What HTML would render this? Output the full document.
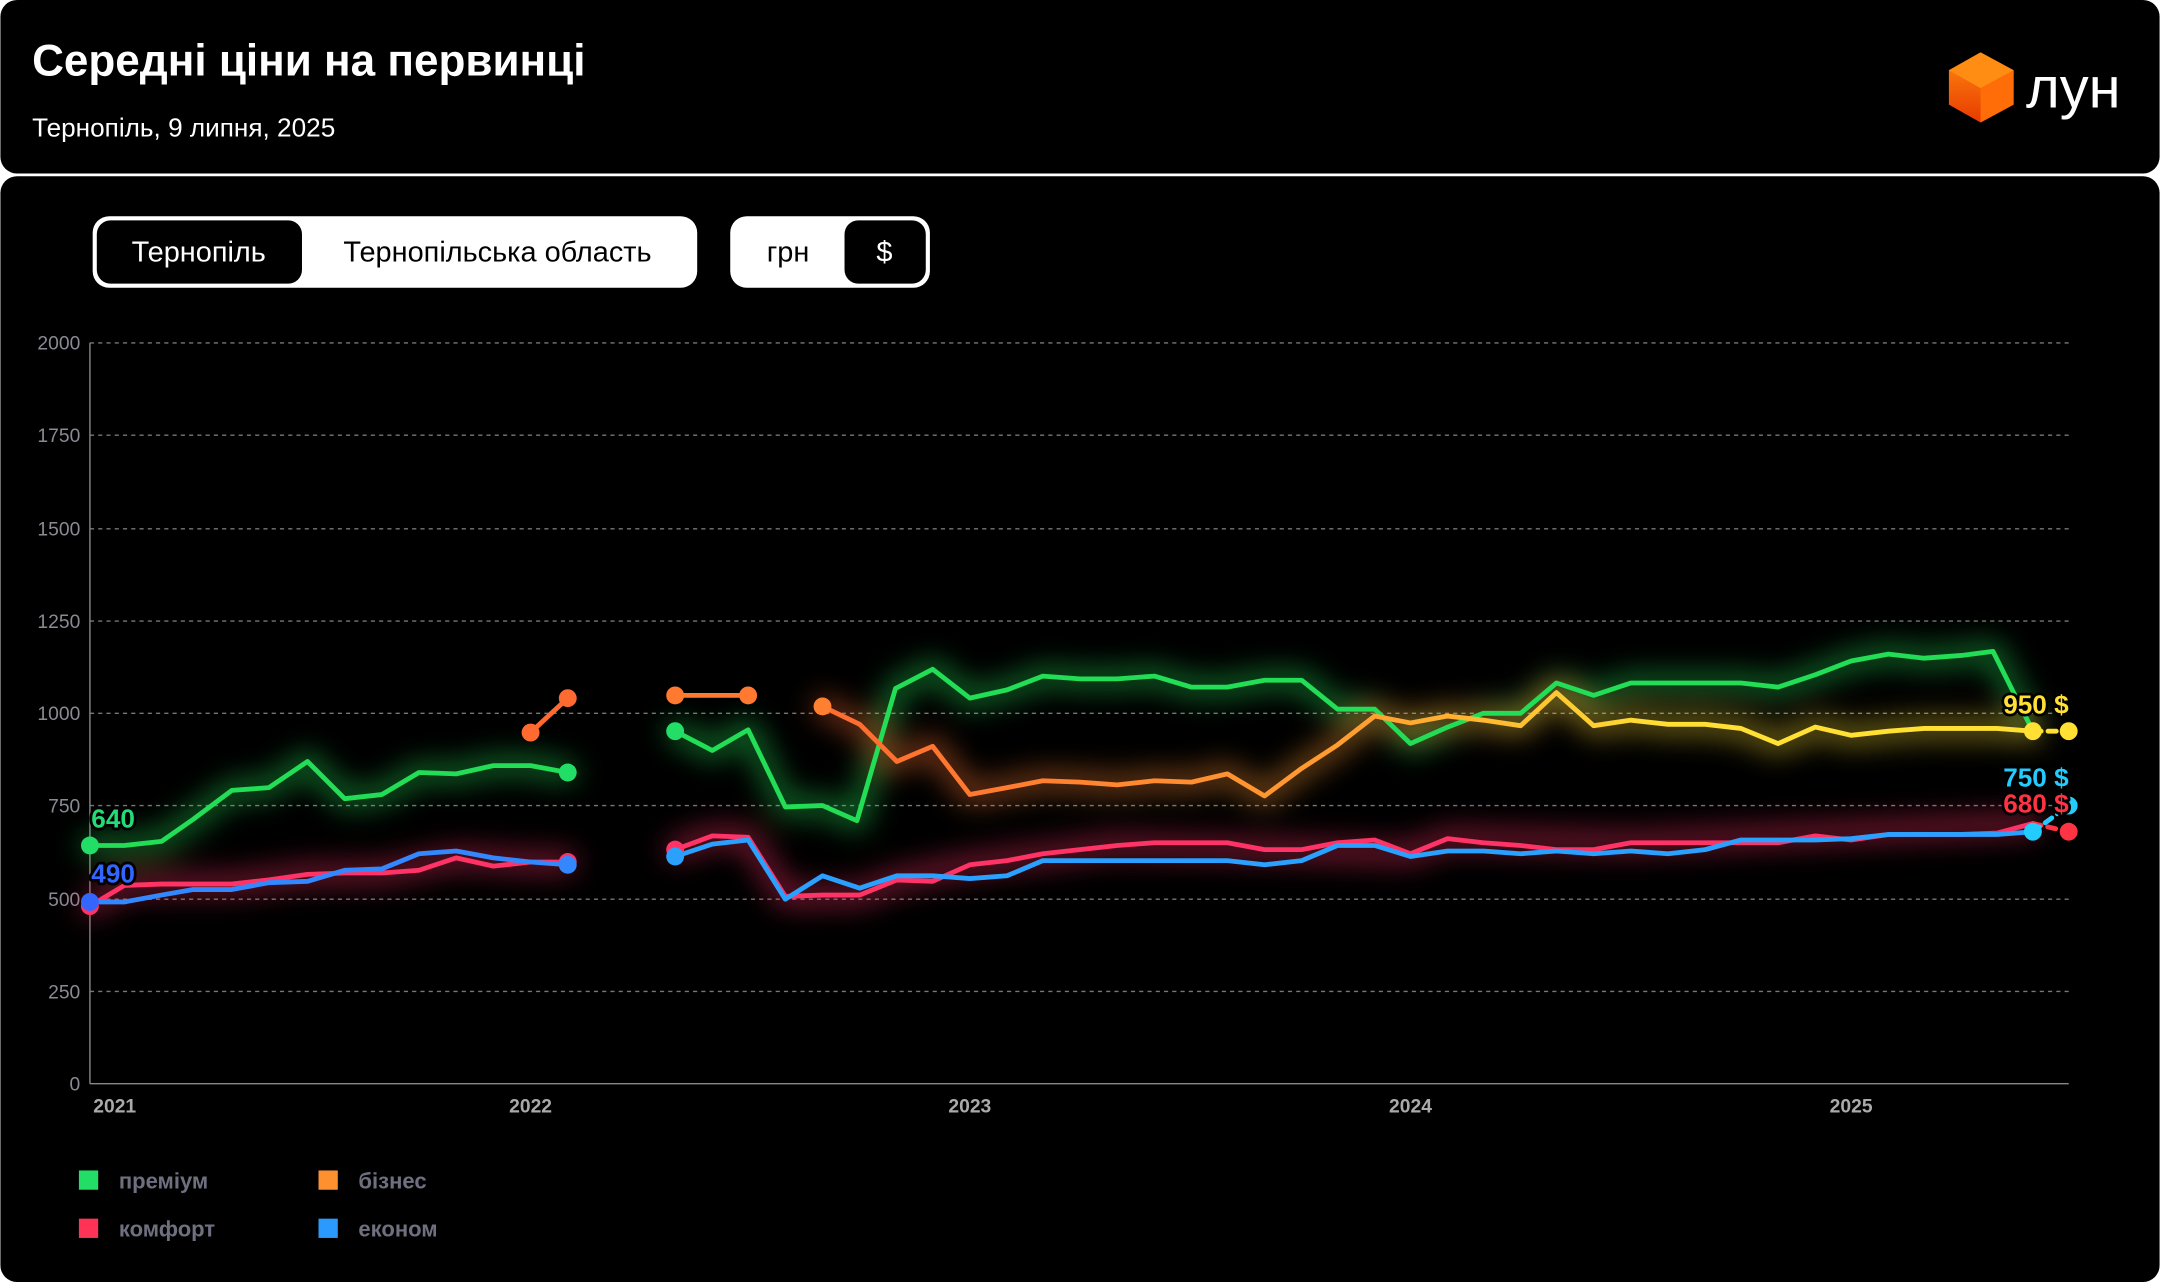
<!DOCTYPE html>
<html><head><meta charset="utf-8"><style>
html,body{margin:0;padding:0;background:#fff;}
svg{display:block;}
text{font-family:"Liberation Sans",sans-serif;}
</style></head><body>
<svg width="2160" height="1282" viewBox="0 0 1568 931" xmlns="http://www.w3.org/2000/svg">
<defs>
<filter id="glow" x="-20%" y="-50%" width="140%" height="200%"><feGaussianBlur stdDeviation="10"/></filter>
<linearGradient id="gBiz" x1="0" x2="1" y1="0" y2="0"><stop offset="0" stop-color="#ff6a30"/><stop offset="0.45" stop-color="#ffa030"/><stop offset="0.7" stop-color="#ffe033"/><stop offset="1" stop-color="#ffe033"/></linearGradient>
<linearGradient id="gCube" x1="0" x2="0" y1="0" y2="1"><stop offset="0" stop-color="#ff8a10"/><stop offset="1" stop-color="#e83a00"/></linearGradient>
</defs>
<rect x="0" y="0" width="1568" height="126" rx="12" fill="#000"/>
<rect x="0" y="128" width="1568" height="803" rx="12" fill="#000"/>
<text x="23" y="55" fill="#fff" font-size="32" font-weight="bold">Середні ціни на первинці</text>
<text x="23" y="99" fill="#fff" font-size="19">Тернопіль, 9 липня, 2025</text>
<polygon points="1438,38 1462,51 1462,76 1438,89 1415,76 1415,51" fill="url(#gCube)"/>
<polygon points="1438,38 1462,51 1438,64 1415,51" fill="#ff8d14"/>
<polygon points="1438,64 1462,51 1462,76 1438,89" fill="#ff6d08"/>
<text x="1471" y="78" fill="#fff" font-size="42">лун</text>
<rect x="67" y="157" width="439" height="52" rx="12" fill="#fff"/>
<rect x="70" y="160" width="149" height="46" rx="10" fill="#000"/>
<text x="144" y="190" fill="#fff" font-size="21" text-anchor="middle">Тернопіль</text>
<text x="361" y="190" fill="#000" font-size="21" text-anchor="middle">Тернопільська область</text>
<rect x="530" y="157" width="145" height="52" rx="12" fill="#fff"/>
<rect x="613" y="160" width="59" height="46" rx="10" fill="#000"/>
<text x="572" y="190" fill="#000" font-size="21" text-anchor="middle">грн</text>
<text x="642" y="190" fill="#fff" font-size="21" text-anchor="middle">$</text>
<g stroke="#777" stroke-dasharray="3,3" stroke-width="1">
<line x1="65" x2="1502" y1="249" y2="249"/><line x1="65" x2="1502" y1="316" y2="316"/><line x1="65" x2="1502" y1="384" y2="384"/><line x1="65" x2="1502" y1="451" y2="451"/><line x1="65" x2="1502" y1="518" y2="518"/><line x1="65" x2="1502" y1="585" y2="585"/><line x1="65" x2="1502" y1="653" y2="653"/><line x1="65" x2="1502" y1="720" y2="720"/>
</g>
<line x1="65" x2="1502" y1="787" y2="787" stroke="#888"/>
<line x1="65" x2="65" y1="249" y2="787" stroke="#888"/>
<g fill="#8a8a95" font-size="14" text-anchor="end">
<text x="58" y="254">2000</text><text x="58" y="321">1750</text><text x="58" y="389">1500</text><text x="58" y="456">1250</text><text x="58" y="523">1000</text><text x="58" y="590">750</text><text x="58" y="658">500</text><text x="58" y="725">250</text><text x="58" y="792">0</text>
</g>
<g fill="#aaa" font-size="14" font-weight="bold" text-anchor="middle">
<text x="83" y="808">2021</text><text x="385" y="808">2022</text><text x="704" y="808">2023</text><text x="1024" y="808">2024</text><text x="1344" y="808">2025</text>
</g>
<g fill="none" stroke-width="3.5" stroke-linejoin="round" stroke-linecap="round">
<g filter="url(#glow)" opacity="0.5" stroke-width="14">
<polyline stroke="#22dd55" points="65,614 90,614 117,611 140,595 168,574 195,572 223,553 250,580 277,577 304,561 331,562 358,556 385,556 412,561"/>
<polyline stroke="#22dd55" points="490,531 517,545 543,530 570,586 597,585 622,596 650,500 677,486 704,507 731,501 757,491 784,493 811,493 838,491 865,499 891,499 918,494 945,494 971,515 998,515 1024,540 1051,528 1077,518 1104,518 1130,496 1157,505 1184,496 1211,496 1238,496 1264,496 1291,499 1318,490 1344,480 1371,475 1397,478 1424,476 1447,473 1476,531"/>
<polyline stroke="url(#gBiz)" points="597,513 624,526 651,553 677,542 704,577 731,572 757,567 784,568 811,570 838,567 865,568 891,562 918,578 945,558 971,541 998,520 1024,525 1051,520 1077,523 1104,527 1130,503 1157,527 1184,523 1211,526 1238,526 1264,529 1291,540 1318,528 1344,534 1371,531 1397,529 1424,529 1450,529 1476,531"/>
<polyline stroke="#ff3366" points="65,658 90,643 117,642 168,642 223,635 277,634 331,623 385,626 412,626"/>
<polyline stroke="#ff3366" points="490,617 517,607 543,608 570,651 624,650 651,639 704,628 811,614 918,617 1024,620 1051,609 1184,612 1476,598"/>
</g>
<polyline stroke="#22dd55" points="65,614 90,614 117,611 140,595 168,574 195,572 223,553 250,580 277,577 304,561 331,562 358,556 385,556 412,561"/>
<polyline stroke="#22dd55" points="490,531 517,545 543,530 570,586 597,585 622,596 650,500 677,486 704,507 731,501 757,491 784,493 811,493 838,491 865,499 891,499 918,494 945,494 971,515 998,515 1024,540 1051,528 1077,518 1104,518 1130,496 1157,505 1184,496 1211,496 1238,496 1264,496 1291,499 1318,490 1344,480 1371,475 1397,478 1424,476 1447,473 1476,531"/>
<polyline stroke="#ff6a30" points="385,532 412,507"/>
<polyline stroke="#ff7a30" points="490,505 543,505"/>
<polyline stroke="url(#gBiz)" points="597,513 624,526 651,553 677,542 704,577 731,572 757,567 784,568 811,570 838,567 865,568 891,562 918,578 945,558 971,541 998,520 1024,525 1051,520 1077,523 1104,527 1130,503 1157,527 1184,523 1211,526 1238,526 1264,529 1291,540 1318,528 1344,534 1371,531 1397,529 1424,529 1450,529 1476,531"/>
<polyline stroke="#ff3366" points="65,658 90,643 117,642 140,642 168,642 195,639 223,635 250,634 277,634 304,632 331,623 358,629 385,626 412,626"/>
<polyline stroke="#ff3366" points="490,617 517,607 543,608 570,651 597,650 624,650 651,639 677,640 704,628 731,625 757,620 784,617 811,614 838,612 865,612 891,612 918,617 945,617 971,612 998,610 1024,620 1051,609 1077,612 1104,614 1130,617 1157,617 1184,612 1211,612 1238,612 1264,612 1291,612 1318,607 1344,610 1371,606 1397,606 1424,606 1450,605 1476,598"/>
<polyline stroke="#3388ff" points="65,655 90,655 117,650 140,646 168,646 195,641 223,640 250,632 277,631 304,620 331,618 358,623 385,626 412,628"/>
<polyline stroke="#2aa0ff" points="490,622 517,613 543,610 570,653 597,636 624,645 651,636 677,636 704,638 731,636 757,625 784,625 811,625 838,625 865,625 891,625 918,628 945,625 971,614 998,614 1024,622 1051,618 1077,618 1104,620 1130,618 1157,620 1184,618 1211,620 1238,617 1264,610 1291,610 1318,610 1344,609 1371,606 1397,606 1424,606 1450,606 1476,604"/>
<line x1="1476" y1="531" x2="1502" y2="531" stroke="#ffe033" stroke-dasharray="6,5"/>
<line x1="1476" y1="598" x2="1502" y2="604" stroke="#ff3344" stroke-dasharray="6,5"/>
<line x1="1476" y1="604" x2="1502" y2="585" stroke="#22ccff" stroke-dasharray="6,5"/>
</g>
<g>
<circle cx="65" cy="614" r="6.5" fill="#22dd66"/>
<circle cx="412" cy="561" r="6.5" fill="#22dd66"/>
<circle cx="490" cy="531" r="6.5" fill="#22dd66"/>
<circle cx="385" cy="532" r="6.5" fill="#ff6a30"/>
<circle cx="412" cy="507" r="6.5" fill="#ff6a30"/>
<circle cx="490" cy="505" r="6.5" fill="#ff7a30"/>
<circle cx="543" cy="505" r="6.5" fill="#ff7a30"/>
<circle cx="597" cy="513" r="6.5" fill="#ff8030"/>
<circle cx="65" cy="658" r="6.5" fill="#ff3366"/>
<circle cx="412" cy="626" r="6.5" fill="#ff3366"/>
<circle cx="490" cy="617" r="6.5" fill="#ff3366"/>
<circle cx="65" cy="655" r="6.5" fill="#3366ff"/>
<circle cx="412" cy="628" r="6.5" fill="#3388ff"/>
<circle cx="490" cy="622" r="6.5" fill="#2aa0ff"/>
<circle cx="1502" cy="585" r="6.5" fill="#22ccff"/>
<circle cx="1502" cy="604" r="6.5" fill="#ff3344"/>
<circle cx="1476" cy="604" r="6.5" fill="#22ccff"/>
<circle cx="1476" cy="531" r="6.5" fill="#ffe033"/>
<circle cx="1502" cy="531" r="6.5" fill="#ffe033"/>
</g>
<g font-size="19" font-weight="bold" stroke="#000" stroke-width="4" paint-order="stroke" stroke-linejoin="round">
<text x="66" y="601" fill="#22dd77">640</text>
<text x="66" y="641" fill="#3366ff">490</text>
<text x="1502" y="518" fill="#ffe033" text-anchor="end">950 $</text>
<text x="1502" y="571" fill="#22ccff" text-anchor="end">750 $</text>
<text x="1502" y="590" fill="#ff3344" text-anchor="end">680 $</text>
</g>
<rect x="57" y="850" width="14" height="14" fill="#22dd66"/>
<rect x="57" y="885" width="14" height="14" fill="#ff3355"/>
<rect x="231" y="850" width="14" height="14" fill="#ff9030"/>
<rect x="231" y="885" width="14" height="14" fill="#2a9aff"/>
<g fill="#6e7080" font-size="16" font-weight="bold">
<text x="86" y="863">преміум</text><text x="86" y="898">комфорт</text>
<text x="260" y="863">бізнес</text><text x="260" y="898">економ</text>
</g>
</svg>
</body></html>
